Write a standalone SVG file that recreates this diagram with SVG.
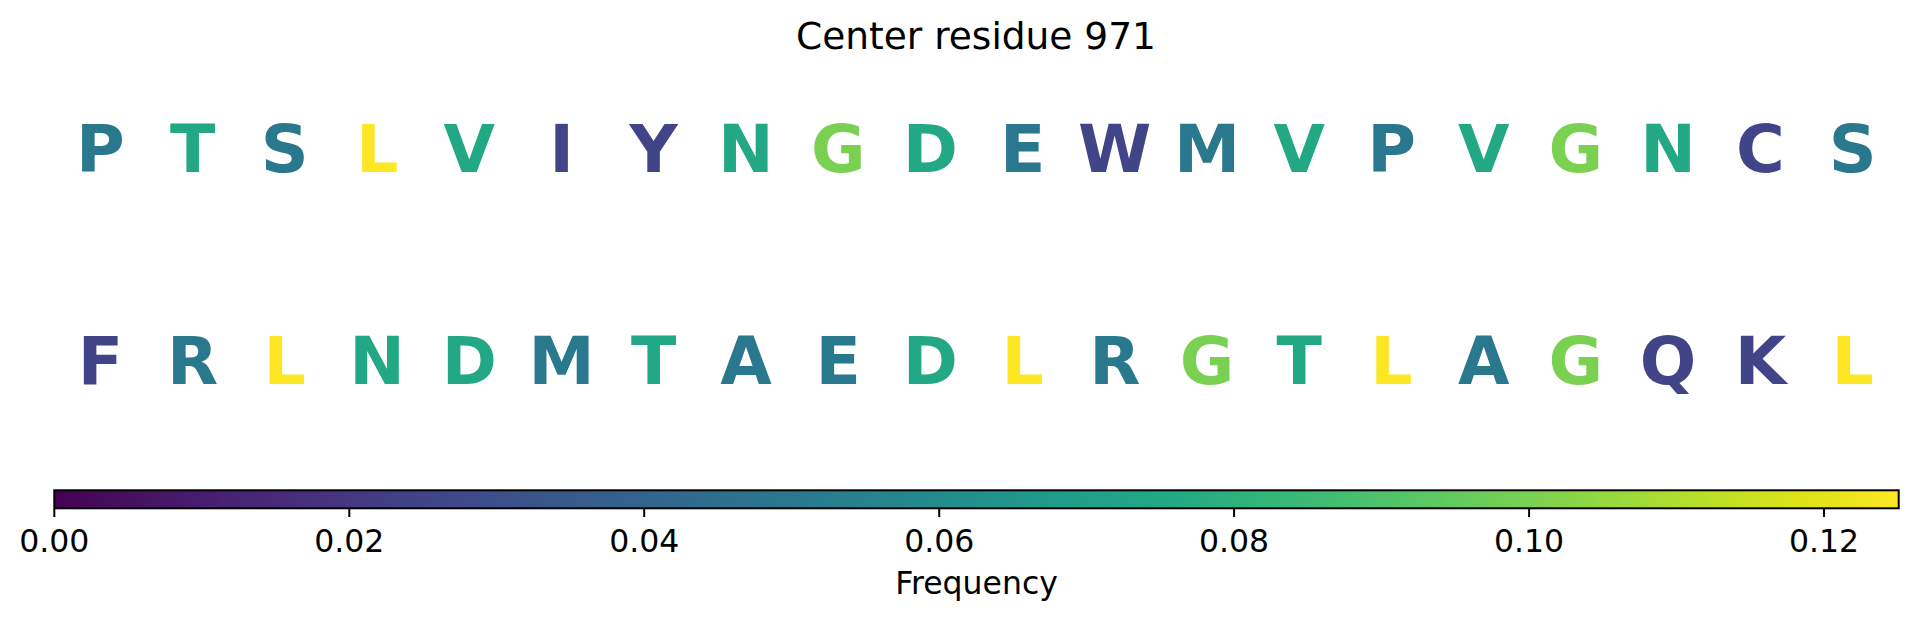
<svg xmlns="http://www.w3.org/2000/svg" width="1917" height="619" viewBox="0 0 1917 619">
<defs>
<linearGradient id="viridis" x1="0" y1="0" x2="1" y2="0">
<stop offset="0" stop-color="#440154"/>
<stop offset="0.05" stop-color="#471365"/>
<stop offset="0.1" stop-color="#482475"/>
<stop offset="0.15" stop-color="#463480"/>
<stop offset="0.2" stop-color="#414487"/>
<stop offset="0.25" stop-color="#3b528b"/>
<stop offset="0.3" stop-color="#355f8d"/>
<stop offset="0.35" stop-color="#2f6c8e"/>
<stop offset="0.4" stop-color="#2a788e"/>
<stop offset="0.45" stop-color="#25858e"/>
<stop offset="0.5" stop-color="#21918c"/>
<stop offset="0.55" stop-color="#1f9e89"/>
<stop offset="0.6" stop-color="#22a884"/>
<stop offset="0.65" stop-color="#2fb47c"/>
<stop offset="0.7" stop-color="#44bf70"/>
<stop offset="0.75" stop-color="#5ec962"/>
<stop offset="0.8" stop-color="#7ad151"/>
<stop offset="0.85" stop-color="#9bd93c"/>
<stop offset="0.9" stop-color="#bddf26"/>
<stop offset="0.95" stop-color="#dfe318"/>
<stop offset="1" stop-color="#fde725"/>
</linearGradient>
</defs>
<style>
text{font-family:"DejaVu Sans","Liberation Sans",sans-serif;}
.title{font-size:37.5px;fill:#000;text-anchor:middle;}
.res{font-size:66.5px;font-weight:bold;text-anchor:middle;}
.c1{fill:#414487;}
.c2{fill:#2a788e;}
.c3{fill:#22a884;}
.c4{fill:#7ad151;}
.c5{fill:#fde725;}
.tick{font-size:31.5px;fill:#000;text-anchor:middle;}
.tk{stroke:#000;stroke-width:2;}
</style>
<rect x="0" y="0" width="1917" height="619" fill="#fff"/>
<text class="title" x="976" y="49">Center residue 971</text>
<g id="row1">
<text class="res c2" x="100.4" y="172">P</text>
<text class="res c3" x="192.6" y="172">T</text>
<text class="res c2" x="284.8" y="172">S</text>
<text class="res c5" x="377.1" y="172">L</text>
<text class="res c3" x="469.3" y="172">V</text>
<text class="res c1" x="561.5" y="172">I</text>
<text class="res c1" x="653.7" y="172">Y</text>
<text class="res c3" x="745.9" y="172">N</text>
<text class="res c4" x="838.2" y="172">G</text>
<text class="res c3" x="930.4" y="172">D</text>
<text class="res c2" x="1022.6" y="172">E</text>
<text class="res c1" x="1114.8" y="172">W</text>
<text class="res c2" x="1207.0" y="172">M</text>
<text class="res c3" x="1299.3" y="172">V</text>
<text class="res c2" x="1391.5" y="172">P</text>
<text class="res c3" x="1483.7" y="172">V</text>
<text class="res c4" x="1575.9" y="172">G</text>
<text class="res c3" x="1668.1" y="172">N</text>
<text class="res c1" x="1760.4" y="172">C</text>
<text class="res c2" x="1852.6" y="172">S</text>
</g>
<g id="row2">
<text class="res c1" x="100.4" y="384">F</text>
<text class="res c2" x="192.6" y="384">R</text>
<text class="res c5" x="284.8" y="384">L</text>
<text class="res c3" x="377.1" y="384">N</text>
<text class="res c3" x="469.3" y="384">D</text>
<text class="res c2" x="561.5" y="384">M</text>
<text class="res c3" x="653.7" y="384">T</text>
<text class="res c2" x="745.9" y="384">A</text>
<text class="res c2" x="838.2" y="384">E</text>
<text class="res c3" x="930.4" y="384">D</text>
<text class="res c5" x="1022.6" y="384">L</text>
<text class="res c2" x="1114.8" y="384">R</text>
<text class="res c4" x="1207.0" y="384">G</text>
<text class="res c3" x="1299.3" y="384">T</text>
<text class="res c5" x="1391.5" y="384">L</text>
<text class="res c2" x="1483.7" y="384">A</text>
<text class="res c4" x="1575.9" y="384">G</text>
<text class="res c1" x="1668.1" y="384">Q</text>
<text class="res c1" x="1760.4" y="384">K</text>
<text class="res c5" x="1852.6" y="384">L</text>
</g>
<g id="colorbar">
<rect x="54.3" y="490.3" width="1844.4" height="18" fill="url(#viridis)" stroke="#000" stroke-width="2"/>
<line class="tk" x1="54.3" y1="509" x2="54.3" y2="517"/>
<line class="tk" x1="349.3" y1="509" x2="349.3" y2="517"/>
<line class="tk" x1="644.2" y1="509" x2="644.2" y2="517"/>
<line class="tk" x1="939.2" y1="509" x2="939.2" y2="517"/>
<line class="tk" x1="1234.1" y1="509" x2="1234.1" y2="517"/>
<line class="tk" x1="1529.1" y1="509" x2="1529.1" y2="517"/>
<line class="tk" x1="1824.0" y1="509" x2="1824.0" y2="517"/>
<text class="tick" x="54.3" y="551.5">0.00</text>
<text class="tick" x="349.3" y="551.5">0.02</text>
<text class="tick" x="644.2" y="551.5">0.04</text>
<text class="tick" x="939.2" y="551.5">0.06</text>
<text class="tick" x="1234.1" y="551.5">0.08</text>
<text class="tick" x="1529.1" y="551.5">0.10</text>
<text class="tick" x="1824.0" y="551.5">0.12</text>
<text class="tick" x="976.5" y="593.5">Frequency</text>
</g>
</svg>
